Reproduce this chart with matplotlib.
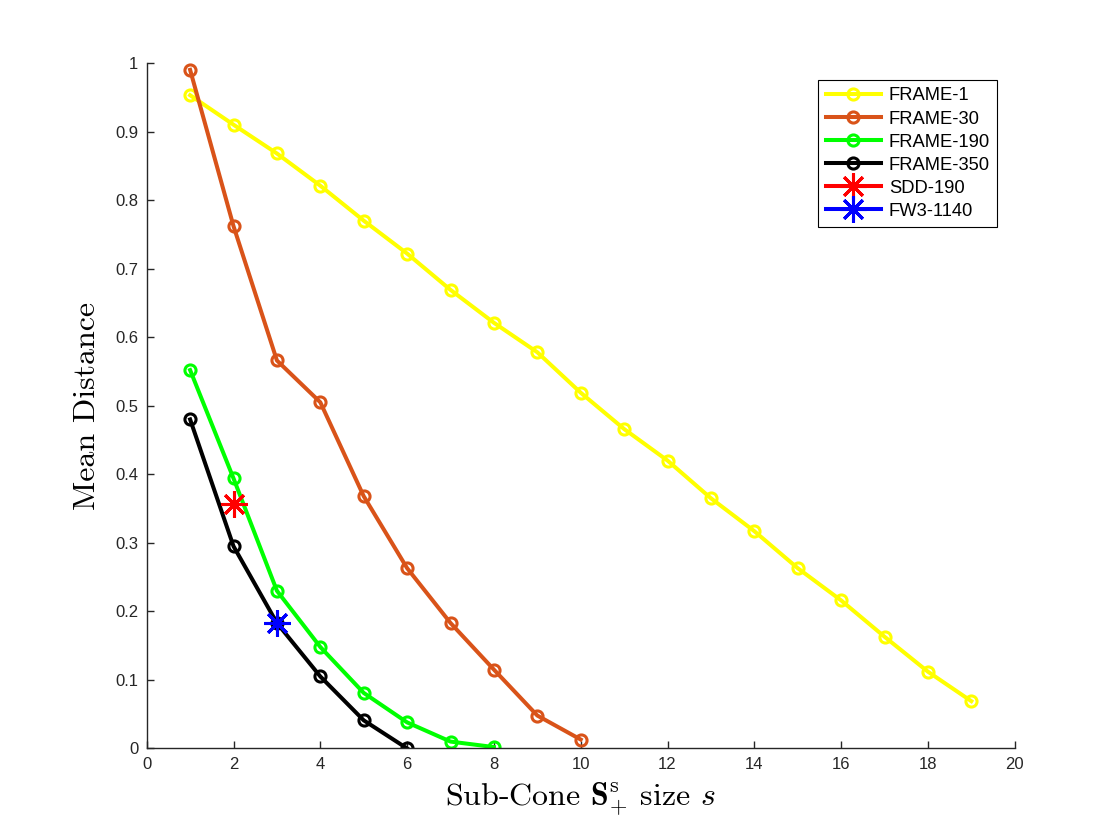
import matplotlib
matplotlib.use('Agg')
import matplotlib.pyplot as plt

plt.rcParams['mathtext.fontset'] = 'cm'
plt.rcParams['font.family'] = ['Liberation Sans', 'DejaVu Sans']

# Data
s_frame1 = list(range(1, 20))
d_frame1 = [0.953, 0.910, 0.868, 0.821, 0.770, 0.722, 0.669, 0.621, 0.578, 0.519,
            0.466, 0.420, 0.365, 0.317, 0.263, 0.216, 0.163, 0.112, 0.069]

s_frame30 = list(range(1, 11))
d_frame30 = [0.990, 0.762, 0.566, 0.505, 0.368, 0.263, 0.183, 0.115, 0.048, 0.013]

s_frame190 = list(range(1, 9))
d_frame190 = [0.552, 0.394, 0.230, 0.148, 0.081, 0.038, 0.010, 0.002]

s_frame350 = list(range(1, 7))
d_frame350 = [0.480, 0.295, 0.183, 0.105, 0.041, 0.0]

s_sdd, d_sdd = [2], [0.357]
s_fw3, d_fw3 = [3], [0.183]

fig = plt.figure(figsize=(11.2, 8.4), dpi=100)
ax = fig.add_axes([0.131, 0.109, 0.775, 0.816])

circle = dict(marker='o', markersize=8, markerfacecolor='none', markeredgewidth=2.2, linewidth=2.9)
star = dict(marker=(8, 2, 0), markersize=19, markeredgewidth=2.2, linewidth=2.9)

ax.plot(s_frame1, d_frame1, color=(1, 1, 0), label='FRAME-1', **circle)
ax.plot(s_frame30, d_frame30, color=(0.85, 0.325, 0.098), label='FRAME-30', **circle)
ax.plot(s_frame190, d_frame190, color=(0, 1, 0), label='FRAME-190', **circle)
ax.plot(s_frame350, d_frame350, color='black', label='FRAME-350', **circle)
ax.plot(s_sdd, d_sdd, color=(1, 0, 0), label='SDD-190', **star)
ax.plot(s_fw3, d_fw3, color=(0, 0, 1), label='FW3-1140', **star)

ax.set_xlim(0, 20)
ax.set_ylim(0, 1)
ax.set_xticks(range(0, 21, 2))
ax.set_yticks([i / 10 for i in range(11)])
ax.set_yticklabels(['0'] + ['%.1f' % (i / 10) for i in range(1, 10)] + ['1'])

axis_color = (0.15, 0.15, 0.15)
for side in ['top', 'right']:
    ax.spines[side].set_visible(False)
for side in ['left', 'bottom']:
    ax.spines[side].set_color(axis_color)
    ax.spines[side].set_linewidth(1.0)
ax.tick_params(direction='in', length=5, width=1.0, colors=axis_color, labelsize=12, pad=6)

ax.set_xlabel(r'Sub-Cone $\mathbf{S}_{+}^{\mathrm{s}}$ size $s$', fontfamily='cmr10', fontsize=23, labelpad=6)
ax.set_ylabel('Mean Distance', fontfamily='cmr10', fontsize=23, labelpad=10)

leg = ax.legend(loc='upper right', bbox_to_anchor=(0.98, 0.975), borderaxespad=0,
                fontsize=13.2, handlelength=3.0, handletextpad=0.45, fancybox=False,
                framealpha=1, edgecolor='black', labelspacing=0.33, borderpad=0.4)
leg.get_frame().set_linewidth(0.8)

fig.savefig('out.png', dpi=100)
